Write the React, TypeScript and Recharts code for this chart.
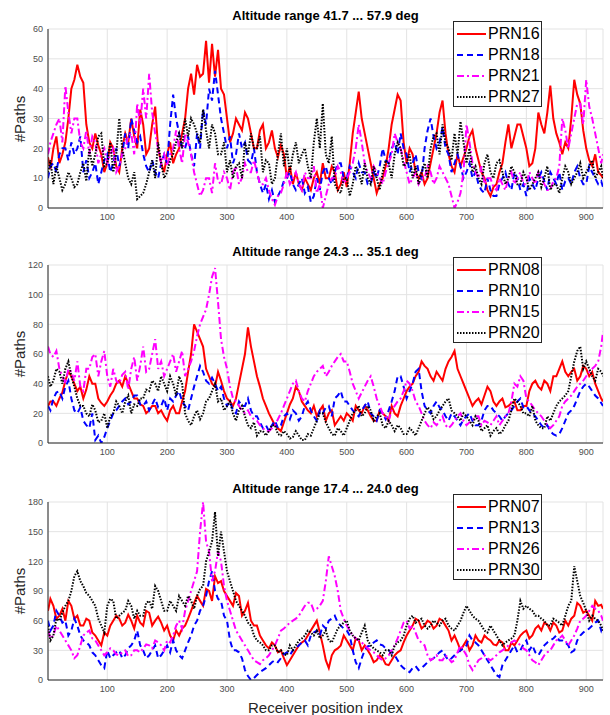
import { LineChart, Line, XAxis, YAxis, CartesianGrid, Legend } from 'recharts';

// receiver position index, read every 10 positions ...
const IDX = [
  1, 10, 20, 30, 40, 50, 60, 70, 80, 90,
  100, 110, 120, 130, 140, 150, 160, 170, 180, 190,
  200, 210, 220, 230, 240, 250, 260, 270, 280, 290,
  300, 310, 320, 330, 340, 350, 360, 370, 380, 390,
  400, 410, 420, 430, 440, 450, 460, 470, 480, 490,
  500, 510, 520, 530, 540, 550, 560, 570, 580, 590,
  600, 610, 620, 630, 640, 650, 660, 670, 680, 690,
  700, 710, 720, 730, 740, 750, 760, 770, 780, 790,
  800, 810, 820, 830, 840, 850, 860, 870, 880, 890,
  900, 910, 920, 928,
];
// ... and in between (jitter of the traces)
const MID_IDX = [
  5, 15, 25, 35, 45, 55, 65, 75, 85, 95,
  105, 115, 125, 135, 145, 155, 165, 175, 185, 195,
  205, 215, 225, 235, 245, 255, 265, 275, 285, 295,
  305, 315, 325, 335, 345, 355, 365, 375, 385, 395,
  405, 415, 425, 435, 445, 455, 465, 475, 485, 495,
  505, 515, 525, 535, 545, 555, 565, 575, 585, 595,
  605, 615, 625, 635, 645, 655, 665, 675, 685, 695,
  705, 715, 725, 735, 745, 755, 765, 775, 785, 795,
  805, 815, 825, 835, 845, 855, 865, 875, 885, 895,
  905, 915, 925,
];
const X_TICKS = [100, 200, 300, 400, 500, 600, 700, 800, 900];

// Altitude range 41.7 ... 57.9 deg
const PRN16 = [17, 20, 15, 22, 40, 48, 42, 22, 25, 18, 15, 20, 12, 25, 30, 20, 28, 20, 34, 15, 18, 15, 20, 30, 45, 48, 45, 42, 44, 40, 30, 25, 28, 32, 25, 20, 28, 22, 20, 21, 10, 8, 8, 10, 6, 12, 15, 10, 12, 8, 7, 25, 39, 25, 15, 5, 10, 20, 33, 36, 15, 18, 10, 8, 15, 25, 36, 18, 12, 14, 20, 26, 16, 10, 4, 8, 15, 28, 24, 28, 20, 15, 32, 25, 41, 25, 18, 20, 43, 35, 20, 14, 12, 10];
const PRN16_MID = [13, 24, 18, 30, 43, 44, 28, 20, 21, 12, 22, 14, 20, 22, 24, 33, 18, 28, 20, 12, 22, 18, 25, 40, 38, 44, 56, 55, 53, 38, 22, 30, 26, 30, 20, 26, 20, 26, 17, 18, 14, 12, 6, 8, 10, 8, 10, 14, 6, 12, 15, 32, 30, 20, 10, 8, 14, 28, 38, 22, 20, 12, 12, 10, 20, 32, 25, 14, 18, 17, 24, 20, 12, 6, 7, 12, 22, 20, 28, 24, 14, 20, 28, 32, 30, 22, 22, 30, 38, 26, 16, 18, 11];
const PRN18 = [10, 15, 18, 20, 22, 20, 12, 10, 15, 12, 18, 15, 14, 25, 30, 22, 18, 12, 12, 15, 15, 38, 25, 20, 18, 25, 33, 40, 46, 30, 20, 15, 25, 22, 15, 12, 5, 3, 2, 6, 10, 8, 8, 5, 2, 10, 12, 10, 12, 15, 10, 12, 15, 12, 8, 10, 20, 15, 22, 25, 18, 15, 12, 20, 30, 20, 27, 18, 15, 14, 12, 10, 8, 5, 6, 4, 10, 8, 12, 6, 4, 8, 10, 9, 12, 8, 6, 10, 12, 10, 8, 12, 8, 7];
const PRN18_MID = [14, 12, 20, 16, 18, 24, 16, 12, 8, 16, 12, 20, 18, 20, 26, 24, 14, 16, 10, 18, 28, 30, 20, 24, 14, 20, 28, 36, 38, 25, 24, 18, 20, 16, 20, 8, 8, 6, 4, 9, 12, 6, 10, 7, 4, 6, 14, 8, 15, 10, 14, 10, 12, 8, 12, 14, 16, 20, 18, 20, 12, 18, 10, 26, 24, 22, 20, 12, 18, 10, 15, 12, 6, 10, 4, 8, 12, 6, 10, 8, 10, 6, 12, 6, 10, 12, 9, 8, 14, 8, 14, 10, 9];
const PRN21 = [18, 25, 30, 41, 25, 30, 20, 18, 22, 18, 15, 20, 14, 20, 25, 35, 40, 45, 25, 15, 14, 20, 20, 25, 18, 8, 6, 10, 15, 8, 10, 12, 8, 15, 12, 12, 8, 6, 1, 5, 12, 10, 8, 12, 10, 5, 0, 8, 10, 12, 10, 15, 28, 15, 10, 12, 8, 15, 25, 20, 12, 10, 8, 10, 12, 10, 12, 8, 0, 5, 28, 15, 10, 8, 10, 6, 8, 10, 8, 12, 8, 10, 12, 8, 6, 10, 30, 20, 30, 35, 43, 30, 20, 18];
const PRN21_MID = [22, 28, 22, 32, 30, 22, 26, 24, 15, 20, 18, 12, 18, 24, 18, 28, 30, 32, 20, 18, 18, 26, 15, 22, 12, 4, 10, 5, 9, 12, 6, 14, 10, 12, 16, 8, 10, 3, 4, 8, 8, 12, 6, 10, 14, 8, 4, 10, 14, 8, 12, 20, 22, 12, 14, 10, 12, 18, 22, 16, 8, 12, 10, 14, 8, 14, 10, 4, 2, 12, 22, 12, 14, 10, 7, 10, 6, 12, 10, 8, 12, 8, 10, 6, 9, 14, 26, 25, 35, 28, 34, 25, 15];
const PRN27 = [12, 8, 10, 8, 10, 8, 15, 20, 18, 25, 15, 12, 30, 15, 8, 3, 5, 12, 10, 15, 12, 18, 25, 30, 30, 25, 33, 20, 25, 18, 12, 10, 15, 22, 25, 20, 12, 15, 10, 25, 20, 18, 15, 20, 10, 30, 35, 15, 8, 5, 10, 8, 12, 15, 8, 10, 12, 15, 18, 20, 15, 10, 8, 15, 20, 25, 28, 20, 25, 29, 15, 12, 10, 15, 12, 15, 12, 10, 12, 8, 10, 8, 12, 10, 6, 8, 10, 12, 10, 15, 12, 16, 12, 10];
const PRN27_MID = [16, 14, 6, 12, 7, 12, 9, 14, 24, 14, 22, 18, 20, 10, 12, 4, 8, 16, 22, 10, 16, 22, 20, 24, 28, 22, 26, 28, 18, 22, 16, 14, 10, 18, 20, 24, 16, 8, 18, 14, 12, 22, 18, 14, 22, 20, 18, 24, 6, 10, 4, 14, 8, 10, 14, 6, 16, 10, 22, 14, 18, 14, 12, 10, 24, 18, 22, 16, 18, 22, 20, 14, 8, 18, 10, 16, 8, 14, 8, 12, 6, 10, 7, 14, 8, 5, 14, 8, 12, 10, 14, 10, 14];

// Altitude range 24.3 ... 35.1 deg
const PRN08 = [25, 28, 30, 42, 45, 35, 30, 45, 40, 27, 28, 35, 42, 45, 35, 30, 25, 22, 25, 22, 15, 25, 20, 35, 60, 75, 65, 45, 38, 42, 30, 25, 40, 60, 65, 45, 30, 20, 12, 8, 20, 30, 35, 25, 20, 18, 25, 20, 12, 18, 20, 15, 22, 25, 18, 15, 20, 15, 20, 25, 35, 40, 48, 52, 45, 48, 42, 55, 62, 45, 35, 25, 30, 32, 35, 25, 30, 25, 28, 22, 25, 40, 38, 42, 35, 45, 55, 45, 50, 45, 50, 48, 35, 28];
const PRN08_MID = [28, 25, 34, 48, 40, 38, 36, 40, 30, 25, 32, 40, 38, 40, 30, 26, 20, 25, 20, 18, 22, 20, 28, 48, 80, 70, 50, 40, 48, 35, 28, 30, 50, 78, 55, 38, 25, 16, 10, 14, 26, 38, 28, 22, 25, 22, 15, 22, 15, 15, 18, 25, 20, 22, 15, 22, 18, 25, 18, 30, 38, 45, 55, 50, 42, 45, 50, 58, 50, 40, 30, 28, 26, 38, 28, 28, 24, 27, 22, 25, 35, 42, 36, 40, 45, 50, 48, 48, 42, 52, 45, 40, 30];
const PRN10 = [25, 30, 35, 38, 30, 20, 15, 10, 2, 0, 10, 20, 25, 30, 28, 32, 25, 22, 30, 25, 22, 28, 35, 25, 30, 45, 48, 40, 40, 38, 25, 22, 28, 25, 22, 18, 10, 8, 15, 12, 20, 22, 15, 25, 22, 15, 20, 25, 30, 35, 28, 22, 18, 25, 20, 15, 20, 22, 35, 45, 30, 40, 50, 25, 20, 28, 22, 15, 18, 12, 18, 15, 12, 22, 25, 20, 15, 20, 25, 30, 25, 20, 15, 10, 8, 5, 10, 20, 25, 35, 40, 35, 30, 25];
const PRN10_MID = [22, 34, 30, 42, 22, 24, 12, 20, 5, 4, 15, 22, 28, 26, 32, 26, 28, 26, 24, 30, 30, 32, 28, 22, 38, 52, 42, 44, 35, 30, 28, 20, 25, 30, 18, 14, 12, 12, 10, 18, 16, 20, 18, 28, 18, 22, 24, 18, 32, 28, 25, 20, 22, 28, 18, 22, 16, 28, 45, 38, 35, 48, 35, 22, 25, 24, 18, 20, 15, 16, 20, 12, 15, 25, 22, 18, 18, 22, 28, 24, 22, 18, 12, 12, 6, 6, 15, 22, 30, 38, 38, 32, 27];
const PRN15 = [65, 58, 50, 40, 48, 55, 35, 50, 60, 55, 45, 50, 40, 48, 50, 42, 65, 50, 70, 55, 50, 60, 55, 45, 55, 72, 85, 100, 118, 70, 50, 30, 25, 20, 18, 15, 10, 8, 12, 20, 30, 40, 35, 28, 40, 48, 52, 48, 55, 60, 55, 40, 30, 38, 45, 30, 20, 15, 25, 30, 42, 35, 25, 15, 10, 12, 18, 10, 15, 20, 12, 15, 18, 15, 12, 18, 15, 20, 40, 45, 30, 25, 20, 15, 10, 15, 25, 30, 35, 40, 45, 50, 55, 75];
const PRN15_MID = [60, 62, 45, 50, 42, 38, 50, 58, 45, 62, 38, 42, 46, 36, 58, 52, 48, 60, 50, 45, 55, 48, 62, 50, 62, 80, 90, 112, 95, 58, 38, 28, 22, 22, 16, 12, 8, 10, 16, 25, 35, 42, 30, 35, 45, 50, 45, 52, 58, 55, 48, 35, 34, 42, 38, 25, 18, 22, 28, 35, 40, 28, 20, 12, 14, 15, 12, 12, 18, 15, 14, 18, 12, 14, 15, 12, 18, 28, 38, 42, 28, 22, 18, 12, 12, 18, 28, 32, 38, 42, 48, 52, 65];
const PRN20 = [45, 42, 48, 50, 45, 30, 25, 18, 22, 15, 10, 20, 25, 28, 20, 25, 30, 35, 40, 45, 35, 40, 45, 20, 12, 22, 20, 30, 40, 30, 25, 20, 22, 18, 10, 5, 8, 8, 12, 5, 6, 4, 5, 2, 5, 15, 20, 10, 5, 8, 10, 20, 25, 20, 22, 18, 12, 15, 8, 10, 6, 8, 10, 20, 22, 18, 25, 30, 20, 15, 18, 12, 15, 10, 5, 10, 8, 15, 30, 25, 20, 25, 12, 10, 15, 25, 30, 35, 55, 65, 55, 45, 50, 45];
const PRN20_MID = [38, 50, 40, 55, 38, 25, 20, 26, 14, 20, 18, 28, 20, 32, 26, 30, 36, 42, 35, 40, 45, 32, 40, 15, 18, 16, 28, 35, 28, 22, 28, 15, 25, 12, 14, 8, 5, 12, 6, 8, 3, 8, 2, 6, 10, 20, 14, 6, 10, 5, 15, 22, 18, 25, 15, 20, 10, 12, 12, 6, 10, 5, 15, 24, 16, 22, 28, 22, 18, 20, 15, 18, 8, 12, 8, 6, 12, 22, 28, 20, 18, 15, 10, 18, 20, 28, 32, 45, 62, 50, 50, 42, 48];

// Altitude range 17.4 ... 24.0 deg
const PRN07 = [70, 75, 65, 60, 75, 65, 55, 60, 45, 35, 45, 60, 62, 58, 60, 65, 55, 68, 60, 58, 55, 40, 45, 55, 70, 85, 75, 90, 105, 100, 85, 75, 85, 70, 60, 55, 40, 32, 35, 30, 15, 25, 35, 40, 50, 60, 35, 12, 30, 35, 40, 30, 40, 35, 25, 20, 22, 15, 25, 30, 45, 55, 60, 55, 58, 55, 60, 50, 45, 30, 40, 35, 40, 45, 40, 35, 38, 30, 35, 45, 50, 45, 55, 58, 50, 55, 50, 55, 65, 75, 70, 60, 75, 72];
const PRN07_MID = [82, 62, 72, 80, 62, 55, 62, 48, 40, 48, 55, 65, 55, 66, 52, 58, 70, 55, 64, 50, 45, 50, 52, 62, 78, 80, 92, 80, 98, 90, 80, 88, 65, 78, 55, 45, 35, 38, 28, 22, 20, 30, 38, 45, 55, 48, 20, 25, 32, 45, 35, 42, 30, 30, 18, 25, 16, 20, 28, 38, 50, 62, 52, 60, 52, 62, 55, 40, 38, 35, 30, 45, 38, 42, 36, 40, 30, 38, 40, 48, 42, 52, 50, 56, 58, 48, 60, 62, 78, 68, 65, 80, 76];
const PRN13 = [60, 55, 65, 60, 50, 55, 40, 35, 25, 15, 30, 25, 30, 25, 35, 50, 30, 25, 35, 25, 35, 40, 25, 30, 45, 60, 75, 100, 90, 80, 60, 30, 28, 10, 0, 5, 10, 15, 20, 22, 28, 30, 35, 40, 45, 50, 55, 60, 65, 55, 50, 30, 12, 30, 35, 40, 35, 30, 25, 15, 10, 12, 10, 15, 20, 25, 30, 20, 25, 30, 35, 40, 35, 25, 15, 5, 15, 25, 35, 30, 40, 35, 25, 35, 40, 45, 40, 35, 30, 45, 50, 55, 60, 55];
const PRN13_MID = [50, 70, 58, 45, 62, 45, 38, 28, 20, 12, 22, 28, 22, 32, 40, 35, 22, 30, 22, 30, 28, 30, 22, 38, 55, 70, 85, 110, 82, 65, 40, 30, 22, 4, 2, 8, 12, 18, 18, 26, 25, 32, 38, 35, 48, 45, 52, 62, 58, 52, 45, 18, 22, 34, 38, 36, 32, 28, 20, 12, 8, 14, 12, 18, 22, 28, 24, 22, 28, 32, 45, 38, 30, 20, 10, 3, 20, 30, 28, 36, 30, 28, 30, 38, 42, 40, 38, 28, 40, 48, 52, 58, 50];
const PRN26 = [50, 45, 50, 40, 30, 25, 45, 50, 40, 30, 28, 30, 25, 30, 25, 30, 32, 35, 40, 35, 40, 45, 60, 70, 90, 110, 180, 130, 110, 120, 80, 60, 45, 35, 25, 18, 20, 25, 35, 50, 55, 60, 65, 75, 78, 72, 80, 125, 105, 70, 55, 45, 40, 35, 30, 25, 20, 25, 35, 50, 60, 55, 40, 35, 20, 25, 20, 22, 20, 35, 25, 10, 20, 25, 20, 25, 30, 35, 40, 35, 30, 20, 15, 25, 30, 40, 45, 35, 45, 60, 65, 75, 70, 60];
const PRN26_MID = [42, 55, 45, 35, 22, 35, 48, 42, 35, 25, 32, 26, 28, 24, 30, 28, 36, 32, 38, 30, 38, 55, 52, 80, 100, 150, 140, 100, 130, 95, 70, 50, 40, 30, 20, 16, 22, 30, 42, 52, 58, 62, 70, 78, 70, 75, 100, 115, 90, 62, 50, 42, 38, 32, 28, 22, 22, 30, 42, 58, 52, 48, 38, 25, 22, 20, 25, 18, 28, 30, 15, 15, 22, 22, 22, 28, 32, 38, 38, 32, 25, 18, 20, 28, 35, 42, 40, 40, 52, 62, 70, 72, 65];
const PRN30 = [55, 45, 60, 75, 90, 110, 95, 85, 75, 55, 75, 80, 65, 70, 75, 70, 65, 80, 95, 80, 70, 75, 85, 75, 80, 85, 95, 130, 170, 150, 110, 90, 75, 65, 55, 40, 35, 30, 35, 30, 25, 30, 40, 45, 48, 50, 45, 40, 45, 55, 60, 45, 40, 55, 35, 30, 25, 30, 35, 40, 55, 65, 60, 55, 55, 58, 60, 55, 50, 60, 75, 65, 60, 50, 55, 45, 35, 40, 45, 80, 75, 70, 65, 60, 55, 60, 55, 75, 115, 85, 70, 65, 60, 50];
const PRN30_MID = [40, 62, 68, 80, 105, 100, 88, 80, 62, 48, 82, 62, 68, 80, 62, 65, 78, 72, 90, 70, 80, 70, 80, 85, 72, 92, 120, 140, 125, 130, 100, 80, 70, 58, 45, 38, 30, 35, 28, 26, 35, 35, 42, 50, 45, 42, 50, 38, 52, 58, 50, 42, 48, 40, 32, 28, 30, 25, 38, 45, 62, 58, 62, 52, 60, 55, 62, 52, 55, 68, 70, 62, 55, 48, 50, 40, 38, 42, 60, 72, 72, 65, 62, 55, 62, 58, 65, 80, 100, 78, 60, 62, 55];

const RED = { color: '#ff0000', dash: undefined, width: 2 };
const BLUE = { color: '#0000ff', dash: '6 4', width: 2 };
const MAGENTA = { color: '#ff00ff', dash: '7 3 2 3', width: 2 };
const BLACK = { color: '#000000', dash: '1.5 1.5', width: 2 };

const PANELS = [
  {
    title: 'Altitude range 41.7 ... 57.9 deg',
    top: 0, height: 235, plotTop: 29, plotBottom: 208, legendTop: 21,
    yMax: 60, yTicks: [0, 10, 20, 30, 40, 50, 60],
    series: [
      { name: 'PRN16', values: PRN16, mids: PRN16_MID, ...RED },
      { name: 'PRN18', values: PRN18, mids: PRN18_MID, ...BLUE },
      { name: 'PRN21', values: PRN21, mids: PRN21_MID, ...MAGENTA },
      { name: 'PRN27', values: PRN27, mids: PRN27_MID, ...BLACK },
    ],
  },
  {
    title: 'Altitude range 24.3 ... 35.1 deg',
    top: 235, height: 235, plotTop: 265, plotBottom: 443, legendTop: 257,
    yMax: 120, yTicks: [0, 20, 40, 60, 80, 100, 120],
    series: [
      { name: 'PRN08', values: PRN08, mids: PRN08_MID, ...RED },
      { name: 'PRN10', values: PRN10, mids: PRN10_MID, ...BLUE },
      { name: 'PRN15', values: PRN15, mids: PRN15_MID, ...MAGENTA },
      { name: 'PRN20', values: PRN20, mids: PRN20_MID, ...BLACK },
    ],
  },
  {
    title: 'Altitude range 17.4 ... 24.0 deg',
    top: 470, height: 245, plotTop: 502, plotBottom: 680, legendTop: 494,
    yMax: 180, yTicks: [0, 30, 60, 90, 120, 150, 180],
    series: [
      { name: 'PRN07', values: PRN07, mids: PRN07_MID, ...RED },
      { name: 'PRN13', values: PRN13, mids: PRN13_MID, ...BLUE },
      { name: 'PRN26', values: PRN26, mids: PRN26_MID, ...MAGENTA },
      { name: 'PRN30', values: PRN30, mids: PRN30_MID, ...BLACK },
    ],
  },
];

const PLOT_LEFT = 48;
const PLOT_RIGHT = 603;
const Y_AXIS_W = 40;
const X_AXIS_H = 20;
const FONT = '"Liberation Sans", Arial, Helvetica, sans-serif';
const tickStyle = { fontSize: 9, fill: '#4d4d4d', fontFamily: FONT };

type Panel = (typeof PANELS)[number];

function buildRows(p: Panel) {
  const rows: Record<string, number>[] = [];
  IDX.forEach((x, i) => {
    const row: Record<string, number> = { x };
    p.series.forEach(s => { row[s.name] = s.values[i]; });
    rows.push(row);
  });
  MID_IDX.forEach((x, i) => {
    const row: Record<string, number> = { x };
    p.series.forEach(s => { row[s.name] = s.mids[i]; });
    rows.push(row);
  });
  return rows.sort((a, b) => a.x - b.x);
}

function LegendBox({ series }: { series: Panel['series'] }) {
  return (
    <div style={{ width: 89, height: 86, border: '1px solid #262626', background: '#fff', boxSizing: 'border-box', position: 'relative', fontFamily: FONT }}>
      {series.map((s, i) => (
        <div key={s.name} style={{ position: 'absolute', left: 2, top: 3 + i * 21, height: 18, display: 'flex', alignItems: 'center' }}>
          <svg width={30} height={18}>
            <line x1={1} x2={30} y1={9} y2={9} stroke={s.color} strokeWidth={s.width} strokeDasharray={s.dash} />
          </svg>
          <span style={{ fontSize: 16, marginLeft: 2, lineHeight: '18px', color: '#000' }}>{s.name}</span>
        </div>
      ))}
    </div>
  );
}

function PanelChart({ p }: { p: Panel }) {
  const data = buildRows(p);
  const mTop = p.plotTop - p.top;
  const mBottom = p.height - (p.plotBottom - p.top) - X_AXIS_H;
  const plotMid = (p.plotTop + p.plotBottom) / 2;

  return (
    <>
      <div style={{ position: 'absolute', left: PLOT_LEFT, width: PLOT_RIGHT - PLOT_LEFT, top: p.plotTop - 21, textAlign: 'center', fontWeight: 'bold', fontSize: 13, fontFamily: FONT, color: '#000', lineHeight: '16px' }}>
        {p.title}
      </div>
      <div style={{ position: 'absolute', left: 19, top: plotMid, transform: 'translate(-50%, -50%) rotate(-90deg)', fontSize: 15, fontFamily: FONT, color: '#262626', whiteSpace: 'nowrap' }}>
        #Paths
      </div>
      <div style={{ position: 'absolute', left: 0, top: p.top }}>
        <LineChart width={610} height={p.height} data={data}
          margin={{ top: mTop, right: 610 - PLOT_RIGHT, bottom: mBottom, left: PLOT_LEFT - Y_AXIS_W }}>
          <CartesianGrid stroke="#e3e3e3" strokeWidth={1} />
          <XAxis dataKey="x" type="number" domain={[1, 928]} ticks={X_TICKS} allowDataOverflow
            height={X_AXIS_H} tickLine={false} tickSize={0} tickMargin={6} tick={tickStyle}
            axisLine={{ stroke: '#262626' }} />
          <XAxis xAxisId="top" orientation="top" dataKey="x" type="number" domain={[1, 928]} height={0}
            tick={false} tickLine={false} axisLine={{ stroke: '#262626' }} />
          <YAxis type="number" domain={[0, p.yMax]} ticks={p.yTicks} allowDataOverflow width={Y_AXIS_W}
            tickLine={false} tickSize={0} tickMargin={5} tick={tickStyle} axisLine={{ stroke: '#262626' }} />
          <YAxis yAxisId="right" orientation="right" domain={[0, p.yMax]} width={0}
            tick={false} tickLine={false} axisLine={{ stroke: '#262626' }} />
          {p.series.map(s => (
            <Line key={s.name} dataKey={s.name} stroke={s.color} strokeWidth={s.width} strokeDasharray={s.dash}
              dot={false} activeDot={false} isAnimationActive={false} />
          ))}
          <Legend layout="vertical" align="center" verticalAlign="middle"
            wrapperStyle={{ position: 'absolute', left: 453, top: p.legendTop - p.top, width: 89, height: 86 }}
            content={() => <LegendBox series={p.series} />} />
        </LineChart>
      </div>
    </>
  );
}

export default function App() {
  return (
    <div style={{ position: 'absolute', left: 0, top: 0, width: 610, height: 715, background: '#fff', overflow: 'hidden' }}>
      {PANELS.map(p => <PanelChart key={p.title} p={p} />)}
      <div style={{ position: 'absolute', left: PLOT_LEFT, width: PLOT_RIGHT - PLOT_LEFT, top: 699, textAlign: 'center', fontSize: 15, fontFamily: FONT, color: '#262626', lineHeight: '17px' }}>
        Receiver position index
      </div>
    </div>
  );
}
